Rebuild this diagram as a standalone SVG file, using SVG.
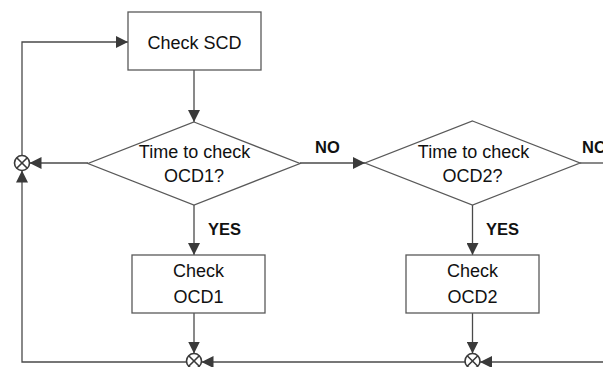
<svg xmlns="http://www.w3.org/2000/svg" width="603" height="367" viewBox="0 0 603 367">
  <style>
    .box { fill: #ffffff; stroke: #595959; stroke-width: 1.3; }
    .line { fill: none; stroke: #4a4a4a; stroke-width: 1.3; }
    .sum { fill: #ffffff; stroke: #3a3a3a; stroke-width: 1.6; }
    .label { font-family: "Liberation Sans", Arial, sans-serif; font-size: 18px; fill: #111111; text-anchor: middle; }
    .tag { font-family: "Liberation Sans", Arial, sans-serif; font-size: 16.5px; font-weight: bold; fill: #111111; }
  </style>
  <defs>
    <marker id="arrow" viewBox="0 0 12 12" refX="12" refY="6" markerWidth="12" markerHeight="12" markerUnits="userSpaceOnUse" orient="auto">
      <path d="M0,0 L12,6 L0,12 Z" fill="#3a3a3a"/>
    </marker>
  </defs>

  <!-- connectors -->
  <g id="connectors">
    <path class="line" d="M194,70 V122" marker-end="url(#arrow)"/>
    <path class="line" d="M88,163 H29.5" marker-end="url(#arrow)"/>
    <path class="line" d="M22,155.5 V42 H128" marker-end="url(#arrow)"/>
    <path class="line" d="M300,163 H365" marker-end="url(#arrow)"/>
    <path class="line" d="M580,163 H603"/>
    <path class="line" d="M194,205 V255" marker-end="url(#arrow)"/>
    <path class="line" d="M472.5,205 V255" marker-end="url(#arrow)"/>
    <path class="line" d="M194,313 V353.5" marker-end="url(#arrow)"/>
    <path class="line" d="M472.5,313 V353.5" marker-end="url(#arrow)"/>
    <path class="line" d="M603,362 H480" marker-end="url(#arrow)"/>
    <path class="line" d="M465,362 H201.5" marker-end="url(#arrow)"/>
    <path class="line" d="M186.5,362 H22 V170.5" marker-end="url(#arrow)"/>
  </g>

  <!-- flow steps -->
  <g id="check-scd">
    <rect class="box" x="128" y="12" width="133" height="58"/>
    <text class="label" x="194.5" y="49">Check SCD</text>
  </g>

  <g id="decide-ocd1">
    <polygon class="box" points="194,122 300,163.5 194,205 88,163.5"/>
    <text class="label" x="194.5" y="158">Time to check</text>
    <text class="label" x="194" y="182">OCD1?</text>
  </g>

  <g id="decide-ocd2">
    <polygon class="box" points="472.5,121 580,163 472.5,205 365,163"/>
    <text class="label" x="473.5" y="158">Time to check</text>
    <text class="label" x="472.5" y="182">OCD2?</text>
  </g>

  <g id="check-ocd1">
    <rect class="box" x="132" y="255" width="133" height="58"/>
    <text class="label" x="198.5" y="277">Check</text>
    <text class="label" x="198.5" y="303">OCD1</text>
  </g>

  <g id="check-ocd2">
    <rect class="box" x="406" y="255" width="133" height="58"/>
    <text class="label" x="472.5" y="277">Check</text>
    <text class="label" x="472.5" y="303">OCD2</text>
  </g>

  <!-- summing junctions -->
  <g id="join-left">
    <circle class="sum" cx="22" cy="163" r="7.5"/>
    <path class="sum" d="M16.7,157.7 L27.3,168.3 M27.3,157.7 L16.7,168.3"/>
  </g>
  <g id="join-ocd1">
    <circle class="sum" cx="194" cy="361" r="7.5"/>
    <path class="sum" d="M188.7,355.7 L199.3,366.3 M199.3,355.7 L188.7,366.3"/>
  </g>
  <g id="join-ocd2">
    <circle class="sum" cx="472.5" cy="361" r="7.5"/>
    <path class="sum" d="M467.2,355.7 L477.8,366.3 M477.8,355.7 L467.2,366.3"/>
  </g>

  <!-- branch labels -->
  <g id="labels">
    <text class="tag" x="315" y="153">NO</text>
    <text class="tag" x="582" y="153">NO</text>
    <text class="tag" x="208" y="235">YES</text>
    <text class="tag" x="486" y="235">YES</text>
  </g>
</svg>
